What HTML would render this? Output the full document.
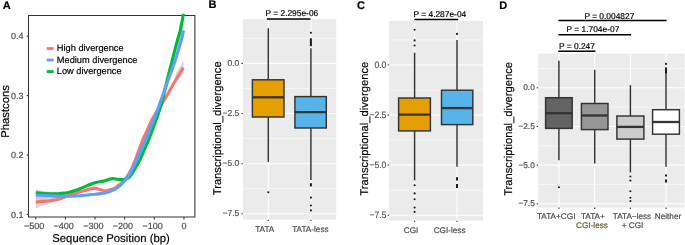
<!DOCTYPE html>
<html><head><meta charset="utf-8"><style>
html,body{margin:0;padding:0;background:#fff;width:685px;height:245px;overflow:hidden}
svg{display:block;will-change:transform}
text{font-family:"Liberation Sans", sans-serif;text-rendering:geometricPrecision}
</style></head><body>
<svg width="685" height="245" viewBox="0 0 685 245">
<rect x="0" y="0" width="685" height="245" fill="#fff"/>
<text x="2.7" y="8.6" font-size="11" fill="#000" text-anchor="start" font-weight="bold" stroke="#000" stroke-width="0.18" >A</text>
<path d="M35.8,197.2 C37.33,197.37 41.8,198.13 45,198.2 C48.2,198.27 51.5,198.07 55,197.6 C58.5,197.13 64.17,195.77 66,195.4 L66,198 C64.17,198.6 58.5,200.43 55,201.6 C51.5,202.77 48.2,203.9 45,205 C41.8,206.1 37.33,207.67 35.8,208.2 Z" fill="#999999" fill-opacity="0.38" stroke="none"/>
<path d="M35.8,189.6 C37.33,189.87 41.8,190.83 45,191.2 C48.2,191.57 51.5,191.77 55,191.8 C58.5,191.83 64.17,191.47 66,191.4 L66,198 C64.17,198 58.5,197.97 55,198 C51.5,198.03 48.2,198.1 45,198.2 C41.8,198.3 37.33,198.53 35.8,198.6 Z" fill="#999999" fill-opacity="0.38" stroke="none"/>
<path d="M175,75 C175.75,73.75 178.08,69.75 179.5,67.5 C180.92,65.25 182.83,62.5 183.5,61.5 L183.5,73.5 C182.92,74.17 181.25,75.92 180,77.5 C178.75,79.08 176.67,82.08 176,83 Z" fill="#999999" fill-opacity="0.4" stroke="none"/>
<path d="M177,42 C177.58,40.5 179.4,35.58 180.5,33 C181.6,30.42 183.08,27.58 183.6,26.5 L183.6,35.5 C183.17,36.42 181.93,38.75 181,41 C180.07,43.25 178.5,47.67 178,49 Z" fill="#999999" fill-opacity="0.4" stroke="none"/>
<path d="M178,36 C178.5,34.33 180.02,30.07 181,26 C181.98,21.93 183.42,14 183.9,11.6 L183.9,18.5 C183.58,20.75 182.82,28.25 182,32 C181.18,35.75 179.5,39.5 179,41 Z" fill="#999999" fill-opacity="0.4" stroke="none"/>
<path d="M28.5,15.5 H194.9 V216.9 H28.5 Z" fill="none" stroke="#333" stroke-width="1.05"/>
<path d="M35.8,202.3 C36.67,202.15 38.63,201.67 41,201.4 C43.37,201.13 47.17,201.02 50,200.7 C52.83,200.38 55.5,200.13 58,199.5 C60.5,198.87 62.67,197.75 65,196.9 C67.33,196.05 69.83,195.15 72,194.4 C74.17,193.65 75.83,193.05 78,192.4 C80.17,191.75 83,191.07 85,190.5 C87,189.93 88.33,189.35 90,189 C91.67,188.65 93.33,188.3 95,188.4 C96.67,188.5 98.33,189.18 100,189.6 C101.67,190.02 103.33,190.87 105,190.9 C106.67,190.93 108.33,190.28 110,189.8 C111.67,189.32 113.33,188.92 115,188 C116.67,187.08 118.33,185.7 120,184.3 C121.67,182.9 123.17,181.98 125,179.6 C126.83,177.22 129.3,173.27 131,170 C132.7,166.73 133.87,163.33 135.2,160 C136.53,156.67 137.75,153.33 139,150 C140.25,146.67 141.32,143.33 142.7,140 C144.08,136.67 145.78,133.33 147.3,130 C148.82,126.67 150.05,123.33 151.8,120 C153.55,116.67 155.73,113.33 157.8,110 C159.87,106.67 162.17,103.33 164.2,100 C166.23,96.67 168.08,93.33 170,90 C171.92,86.67 174.1,82.7 175.7,80 C177.3,77.3 178.33,75.87 179.6,73.8 C180.87,71.73 182.68,68.63 183.3,67.6" fill="none" stroke="#F8766D" stroke-width="3.1" stroke-linecap="butt" stroke-linejoin="round"/>
<path d="M35.8,192.6 C36.67,192.7 38.63,193.02 41,193.2 C43.37,193.38 47.17,193.62 50,193.7 C52.83,193.78 55.5,193.8 58,193.7 C60.5,193.6 63,193.38 65,193.1 C67,192.82 68.33,192.43 70,192 C71.67,191.57 73.33,191.05 75,190.5 C76.67,189.95 78.33,189.35 80,188.7 C81.67,188.05 83.33,187.3 85,186.6 C86.67,185.9 88.33,185.15 90,184.5 C91.67,183.85 93.33,183.17 95,182.7 C96.67,182.23 98.33,182.02 100,181.7 C101.67,181.38 103.33,181.23 105,180.8 C106.67,180.37 108.67,179.47 110,179.1 C111.33,178.73 111.83,178.58 113,178.6 C114.17,178.62 115.83,179.03 117,179.2 C118.17,179.37 119,179.53 120,179.6 C121,179.67 122,179.7 123,179.6 C124,179.5 124.92,179.43 126,179 C127.08,178.57 128.13,178.5 129.5,177 C130.87,175.5 132.48,172.83 134.2,170 C135.92,167.17 138.12,163.33 139.8,160 C141.48,156.67 142.83,153.33 144.3,150 C145.77,146.67 147.25,143.33 148.6,140 C149.95,136.67 151.15,133.33 152.4,130 C153.65,126.67 154.92,123.33 156.1,120 C157.28,116.67 158.43,113.33 159.5,110 C160.57,106.67 161.22,105 162.5,100 C163.78,95 165.57,86.67 167.2,80 C168.83,73.33 170.58,66.67 172.3,60 C174.02,53.33 176.23,44.67 177.5,40 C178.77,35.33 179.27,34.5 179.9,32 C180.53,29.5 180.7,28.02 181.3,25 C181.9,21.98 183.13,15.75 183.5,13.9" fill="none" stroke="#00BA38" stroke-width="3.1" stroke-linecap="butt" stroke-linejoin="round"/>
<path d="M35.8,195.2 C36.67,195.22 38.63,195.2 41,195.3 C43.37,195.4 47.17,195.65 50,195.8 C52.83,195.95 55.5,196.12 58,196.2 C60.5,196.28 62.67,196.3 65,196.3 C67.33,196.3 69.83,196.28 72,196.2 C74.17,196.12 75.83,195.95 78,195.8 C80.17,195.65 82.17,195.57 85,195.3 C87.83,195.03 91.67,194.57 95,194.2 C98.33,193.83 102.5,193.57 105,193.1 C107.5,192.63 108.33,192.05 110,191.4 C111.67,190.75 113.33,190.17 115,189.2 C116.67,188.23 118.5,186.88 120,185.6 C121.5,184.32 122.72,182.93 124,181.5 C125.28,180.07 126.38,178.92 127.7,177 C129.02,175.08 130.38,172.83 131.9,170 C133.42,167.17 135.28,163.33 136.8,160 C138.32,156.67 139.53,153.33 141,150 C142.47,146.67 144.17,143.33 145.6,140 C147.03,136.67 148.25,133.33 149.6,130 C150.95,126.67 152.38,123.33 153.7,120 C155.02,116.67 156.27,113.33 157.5,110 C158.73,106.67 159.32,105 161.1,100 C162.88,95 165.83,86.67 168.2,80 C170.57,73.33 173.12,66.67 175.3,60 C177.48,53.33 179.92,44.92 181.3,40 C182.68,35.08 183.22,32.08 183.6,30.5" fill="none" stroke="#619CFF" stroke-width="3.1" stroke-linecap="butt" stroke-linejoin="round"/>
<line x1="26.7" y1="214.4" x2="28.5" y2="214.4" stroke="#333" stroke-width="1.1" />
<text x="23.6" y="217.6" font-size="9" fill="#4D4D4D" text-anchor="end" font-weight="normal" stroke="#4D4D4D" stroke-width="0.18" >0.1</text>
<line x1="26.7" y1="155" x2="28.5" y2="155" stroke="#333" stroke-width="1.1" />
<text x="23.6" y="158.2" font-size="9" fill="#4D4D4D" text-anchor="end" font-weight="normal" stroke="#4D4D4D" stroke-width="0.18" >0.2</text>
<line x1="26.7" y1="95.6" x2="28.5" y2="95.6" stroke="#333" stroke-width="1.1" />
<text x="23.6" y="98.8" font-size="9" fill="#4D4D4D" text-anchor="end" font-weight="normal" stroke="#4D4D4D" stroke-width="0.18" >0.3</text>
<line x1="26.7" y1="36.2" x2="28.5" y2="36.2" stroke="#333" stroke-width="1.1" />
<text x="23.6" y="39.4" font-size="9" fill="#4D4D4D" text-anchor="end" font-weight="normal" stroke="#4D4D4D" stroke-width="0.18" >0.4</text>
<line x1="35.75" y1="217" x2="35.75" y2="219.4" stroke="#333" stroke-width="1.05" />
<text x="34.05" y="228.9" font-size="9" fill="#4D4D4D" text-anchor="middle" font-weight="normal" stroke="#4D4D4D" stroke-width="0.18" >−500</text>
<line x1="65.39" y1="217" x2="65.39" y2="219.4" stroke="#333" stroke-width="1.05" />
<text x="63.69" y="228.9" font-size="9" fill="#4D4D4D" text-anchor="middle" font-weight="normal" stroke="#4D4D4D" stroke-width="0.18" >−400</text>
<line x1="95.02" y1="217" x2="95.02" y2="219.4" stroke="#333" stroke-width="1.05" />
<text x="93.32" y="228.9" font-size="9" fill="#4D4D4D" text-anchor="middle" font-weight="normal" stroke="#4D4D4D" stroke-width="0.18" >−300</text>
<line x1="124.66" y1="217" x2="124.66" y2="219.4" stroke="#333" stroke-width="1.05" />
<text x="122.96" y="228.9" font-size="9" fill="#4D4D4D" text-anchor="middle" font-weight="normal" stroke="#4D4D4D" stroke-width="0.18" >−200</text>
<line x1="154.29" y1="217" x2="154.29" y2="219.4" stroke="#333" stroke-width="1.05" />
<text x="152.59" y="228.9" font-size="9" fill="#4D4D4D" text-anchor="middle" font-weight="normal" stroke="#4D4D4D" stroke-width="0.18" >−100</text>
<line x1="183.93" y1="217" x2="183.93" y2="219.4" stroke="#333" stroke-width="1.05" />
<text x="183.93" y="228.9" font-size="9" fill="#4D4D4D" text-anchor="middle" font-weight="normal" stroke="#4D4D4D" stroke-width="0.18" >0</text>
<text x="111" y="242" font-size="11.3" fill="#000" text-anchor="middle" font-weight="normal" stroke="#000" stroke-width="0.18" >Sequence Position (bp)</text>
<text x="9.1" y="111.4" font-size="11.3" fill="#000" text-anchor="middle" font-weight="normal" stroke="#000" stroke-width="0.18" transform="rotate(-90 9.1 111.4)">Phastcons</text>
<line x1="46.7" y1="48.5" x2="53.7" y2="48.5" stroke="#F8766D" stroke-width="2.8" />
<text x="56.8" y="51.2" font-size="9.25" fill="#000" text-anchor="start" font-weight="normal" stroke="#000" stroke-width="0.18" >High divergence</text>
<line x1="46.7" y1="60.05" x2="53.7" y2="60.05" stroke="#619CFF" stroke-width="2.8" />
<text x="56.8" y="62.75" font-size="9.25" fill="#000" text-anchor="start" font-weight="normal" stroke="#000" stroke-width="0.18" >Medium divergence</text>
<line x1="46.7" y1="71.6" x2="53.7" y2="71.6" stroke="#00BA38" stroke-width="2.8" />
<text x="56.8" y="74.3" font-size="9.25" fill="#000" text-anchor="start" font-weight="normal" stroke="#000" stroke-width="0.18" >Low divergence</text>
<text x="208.5" y="7.9" font-size="11" fill="#000" text-anchor="start" font-weight="bold" stroke="#000" stroke-width="0.18" >B</text>
<rect x="242.9" y="19.1" width="93.3" height="200.6" fill="#EBEBEB" stroke="none" stroke-width="0" />
<line x1="242.9" y1="38.33" x2="336.2" y2="38.33" stroke="#FFFFFF" stroke-width="0.53" />
<line x1="242.9" y1="88.47" x2="336.2" y2="88.47" stroke="#FFFFFF" stroke-width="0.53" />
<line x1="242.9" y1="138.59" x2="336.2" y2="138.59" stroke="#FFFFFF" stroke-width="0.53" />
<line x1="242.9" y1="188.72" x2="336.2" y2="188.72" stroke="#FFFFFF" stroke-width="0.53" />
<line x1="242.9" y1="63.4" x2="336.2" y2="63.4" stroke="#FFFFFF" stroke-width="1.07" />
<line x1="242.9" y1="113.53" x2="336.2" y2="113.53" stroke="#FFFFFF" stroke-width="1.07" />
<line x1="242.9" y1="163.66" x2="336.2" y2="163.66" stroke="#FFFFFF" stroke-width="1.07" />
<line x1="242.9" y1="213.79" x2="336.2" y2="213.79" stroke="#FFFFFF" stroke-width="1.07" />
<line x1="268.3" y1="19.1" x2="268.3" y2="219.7" stroke="#FFFFFF" stroke-width="1.07" />
<line x1="310.9" y1="19.1" x2="310.9" y2="219.7" stroke="#FFFFFF" stroke-width="1.07" />
<line x1="241.5" y1="63.4" x2="242.9" y2="63.4" stroke="#333" stroke-width="1.07" />
<text x="239.3" y="66" font-size="8.5" fill="#4D4D4D" text-anchor="end" font-weight="normal" stroke="#4D4D4D" stroke-width="0.18" >0.0</text>
<line x1="241.5" y1="113.53" x2="242.9" y2="113.53" stroke="#333" stroke-width="1.07" />
<text x="239.3" y="116" font-size="8.5" fill="#4D4D4D" text-anchor="end" font-weight="normal" stroke="#4D4D4D" stroke-width="0.18" >−2.5</text>
<line x1="241.5" y1="163.66" x2="242.9" y2="163.66" stroke="#333" stroke-width="1.07" />
<text x="239.3" y="166" font-size="8.5" fill="#4D4D4D" text-anchor="end" font-weight="normal" stroke="#4D4D4D" stroke-width="0.18" >−5.0</text>
<line x1="241.5" y1="213.79" x2="242.9" y2="213.79" stroke="#333" stroke-width="1.07" />
<text x="239.3" y="216" font-size="8.5" fill="#4D4D4D" text-anchor="end" font-weight="normal" stroke="#4D4D4D" stroke-width="0.18" >−7.5</text>
<line x1="268.3" y1="219.7" x2="268.3" y2="221.1" stroke="#333" stroke-width="1.07" />
<line x1="310.9" y1="219.7" x2="310.9" y2="221.1" stroke="#333" stroke-width="1.07" />
<line x1="268.3" y1="28.2" x2="268.3" y2="79.8" stroke="#333" stroke-width="1.45" />
<line x1="268.3" y1="117" x2="268.3" y2="161.9" stroke="#333" stroke-width="1.45" />
<rect x="252.4" y="79.8" width="31.6" height="37.2" fill="#E69F00" stroke="#333" stroke-width="1.45" />
<line x1="252.4" y1="97.3" x2="284" y2="97.3" stroke="#333" stroke-width="2.3" />
<circle cx="268.3" cy="192.2" r="1.05" fill="#1a1a1a"/>
<line x1="310.9" y1="48.2" x2="310.9" y2="96.6" stroke="#333" stroke-width="1.45" />
<line x1="310.9" y1="128" x2="310.9" y2="180" stroke="#333" stroke-width="1.45" />
<rect x="294.9" y="96.6" width="31.4" height="31.4" fill="#56B4E9" stroke="#333" stroke-width="1.45" />
<line x1="294.9" y1="112.1" x2="326.3" y2="112.1" stroke="#333" stroke-width="2.3" />
<circle cx="310.9" cy="32.7" r="1.05" fill="#1a1a1a"/>
<line x1="310.9" y1="38.3" x2="310.9" y2="46.2" stroke="#1a1a1a" stroke-width="2" />
<line x1="310.9" y1="183.2" x2="310.9" y2="186.4" stroke="#1a1a1a" stroke-width="2" />
<circle cx="310.9" cy="197.6" r="1.05" fill="#1a1a1a"/>
<circle cx="310.9" cy="205.5" r="1.05" fill="#1a1a1a"/>
<circle cx="310.9" cy="210.4" r="1.05" fill="#1a1a1a"/>
<text x="220.6" y="128.3" font-size="11.2" fill="#000" text-anchor="middle" font-weight="normal" stroke="#000" stroke-width="0.18" transform="rotate(-90 220.6 128.3)">Transcriptional_divergence</text>
<line x1="266.9" y1="18.9" x2="310.5" y2="18.9" stroke="#000" stroke-width="1.5" />
<text x="265.5" y="16" font-size="8.4" fill="#000" text-anchor="start" font-weight="normal" stroke="#000" stroke-width="0.18" >P = 2.295e-06</text>
<text x="264.7" y="231.9" font-size="8.2" fill="#4D4D4D" text-anchor="middle" font-weight="normal" stroke="#4D4D4D" stroke-width="0.18" >TATA</text>
<text x="310.4" y="231.9" font-size="8.2" fill="#4D4D4D" text-anchor="middle" font-weight="normal" stroke="#4D4D4D" stroke-width="0.18" >TATA-less</text>
<text x="357.1" y="8.9" font-size="11" fill="#000" text-anchor="start" font-weight="bold" stroke="#000" stroke-width="0.18" >C</text>
<rect x="389.1" y="20.9" width="93.9" height="199.8" fill="#EBEBEB" stroke="none" stroke-width="0" />
<line x1="389.1" y1="39.92" x2="483" y2="39.92" stroke="#FFFFFF" stroke-width="0.53" />
<line x1="389.1" y1="90" x2="483" y2="90" stroke="#FFFFFF" stroke-width="0.53" />
<line x1="389.1" y1="140.08" x2="483" y2="140.08" stroke="#FFFFFF" stroke-width="0.53" />
<line x1="389.1" y1="190.16" x2="483" y2="190.16" stroke="#FFFFFF" stroke-width="0.53" />
<line x1="389.1" y1="64.96" x2="483" y2="64.96" stroke="#FFFFFF" stroke-width="1.07" />
<line x1="389.1" y1="115.04" x2="483" y2="115.04" stroke="#FFFFFF" stroke-width="1.07" />
<line x1="389.1" y1="165.12" x2="483" y2="165.12" stroke="#FFFFFF" stroke-width="1.07" />
<line x1="389.1" y1="215.2" x2="483" y2="215.2" stroke="#FFFFFF" stroke-width="1.07" />
<line x1="414.6" y1="20.9" x2="414.6" y2="220.7" stroke="#FFFFFF" stroke-width="1.07" />
<line x1="457" y1="20.9" x2="457" y2="220.7" stroke="#FFFFFF" stroke-width="1.07" />
<line x1="387.7" y1="64.96" x2="389.1" y2="64.96" stroke="#333" stroke-width="1.07" />
<text x="0" y="0" font-size="8.6" fill="#4D4D4D" text-anchor="end" font-weight="normal" stroke="#4D4D4D" stroke-width="0.12" transform="translate(386.4 67.86) scale(1 1.07)">0.0</text>
<line x1="387.7" y1="115.04" x2="389.1" y2="115.04" stroke="#333" stroke-width="1.07" />
<text x="0" y="0" font-size="8.6" fill="#4D4D4D" text-anchor="end" font-weight="normal" stroke="#4D4D4D" stroke-width="0.12" transform="translate(386.4 117.94) scale(1 1.07)">−2.5</text>
<line x1="387.7" y1="165.12" x2="389.1" y2="165.12" stroke="#333" stroke-width="1.07" />
<text x="0" y="0" font-size="8.6" fill="#4D4D4D" text-anchor="end" font-weight="normal" stroke="#4D4D4D" stroke-width="0.12" transform="translate(386.4 168.02) scale(1 1.07)">−5.0</text>
<line x1="387.7" y1="215.2" x2="389.1" y2="215.2" stroke="#333" stroke-width="1.07" />
<text x="0" y="0" font-size="8.6" fill="#4D4D4D" text-anchor="end" font-weight="normal" stroke="#4D4D4D" stroke-width="0.12" transform="translate(386.4 218.1) scale(1 1.07)">−7.5</text>
<line x1="414.6" y1="220.7" x2="414.6" y2="222.1" stroke="#333" stroke-width="1.07" />
<line x1="457" y1="220.7" x2="457" y2="222.1" stroke="#333" stroke-width="1.07" />
<line x1="414.6" y1="52.7" x2="414.6" y2="98" stroke="#333" stroke-width="1.45" />
<line x1="414.6" y1="130.9" x2="414.6" y2="180.3" stroke="#333" stroke-width="1.45" />
<rect x="398.6" y="98" width="31.8" height="32.9" fill="#E69F00" stroke="#333" stroke-width="1.45" />
<line x1="398.6" y1="114.6" x2="430.4" y2="114.6" stroke="#333" stroke-width="2.3" />
<circle cx="414.6" cy="29.8" r="1.05" fill="#1a1a1a"/>
<circle cx="414.6" cy="40.4" r="1.05" fill="#1a1a1a"/>
<circle cx="414.6" cy="45.5" r="1.05" fill="#1a1a1a"/>
<circle cx="414.6" cy="185.3" r="1.05" fill="#1a1a1a"/>
<circle cx="414.6" cy="193.4" r="1.05" fill="#1a1a1a"/>
<circle cx="414.6" cy="199.2" r="1.05" fill="#1a1a1a"/>
<circle cx="414.6" cy="207.6" r="1.05" fill="#1a1a1a"/>
<circle cx="414.6" cy="211.9" r="1.05" fill="#1a1a1a"/>
<line x1="457" y1="40" x2="457" y2="90.2" stroke="#333" stroke-width="1.45" />
<line x1="457" y1="124.6" x2="457" y2="166.8" stroke="#333" stroke-width="1.45" />
<rect x="441.5" y="90.2" width="31.3" height="34.4" fill="#56B4E9" stroke="#333" stroke-width="1.45" />
<line x1="441.5" y1="108.1" x2="472.8" y2="108.1" stroke="#333" stroke-width="2.3" />
<circle cx="457" cy="33.9" r="1.05" fill="#1a1a1a"/>
<line x1="457" y1="177.3" x2="457" y2="180.6" stroke="#1a1a1a" stroke-width="2" />
<line x1="457" y1="183.9" x2="457" y2="188" stroke="#1a1a1a" stroke-width="2" />
<text x="367.7" y="128.7" font-size="11.2" fill="#000" text-anchor="middle" font-weight="normal" stroke="#000" stroke-width="0.18" transform="rotate(-90 367.7 128.7)">Transcriptional_divergence</text>
<line x1="414.4" y1="19.4" x2="458.2" y2="19.4" stroke="#000" stroke-width="1.5" />
<text x="413.5" y="16.5" font-size="8.4" fill="#000" text-anchor="start" font-weight="normal" stroke="#000" stroke-width="0.18" >P = 4.287e-04</text>
<text x="411" y="233" font-size="8.2" fill="#4D4D4D" text-anchor="middle" font-weight="normal" stroke="#4D4D4D" stroke-width="0.18" >CGI</text>
<text x="449.6" y="233" font-size="8.2" fill="#4D4D4D" text-anchor="middle" font-weight="normal" stroke="#4D4D4D" stroke-width="0.18" >CGI-less</text>
<text x="499.3" y="8.6" font-size="11" fill="#000" text-anchor="start" font-weight="bold" stroke="#000" stroke-width="0.18" >D</text>
<rect x="538.1" y="53.6" width="146.4" height="154" fill="#EBEBEB" stroke="none" stroke-width="0" />
<line x1="538.1" y1="68.47" x2="684.5" y2="68.47" stroke="#FFFFFF" stroke-width="0.53" />
<line x1="538.1" y1="107.13" x2="684.5" y2="107.13" stroke="#FFFFFF" stroke-width="0.53" />
<line x1="538.1" y1="145.81" x2="684.5" y2="145.81" stroke="#FFFFFF" stroke-width="0.53" />
<line x1="538.1" y1="184.47" x2="684.5" y2="184.47" stroke="#FFFFFF" stroke-width="0.53" />
<line x1="538.1" y1="87.8" x2="684.5" y2="87.8" stroke="#FFFFFF" stroke-width="1.07" />
<line x1="538.1" y1="126.47" x2="684.5" y2="126.47" stroke="#FFFFFF" stroke-width="1.07" />
<line x1="538.1" y1="165.14" x2="684.5" y2="165.14" stroke="#FFFFFF" stroke-width="1.07" />
<line x1="538.1" y1="203.81" x2="684.5" y2="203.81" stroke="#FFFFFF" stroke-width="1.07" />
<line x1="558.9" y1="53.6" x2="558.9" y2="207.6" stroke="#FFFFFF" stroke-width="1.07" />
<line x1="594.7" y1="53.6" x2="594.7" y2="207.6" stroke="#FFFFFF" stroke-width="1.07" />
<line x1="630.4" y1="53.6" x2="630.4" y2="207.6" stroke="#FFFFFF" stroke-width="1.07" />
<line x1="666" y1="53.6" x2="666" y2="207.6" stroke="#FFFFFF" stroke-width="1.07" />
<line x1="536.7" y1="87.8" x2="538.1" y2="87.8" stroke="#333" stroke-width="1.07" />
<text x="534.8" y="90" font-size="8.3" fill="#4D4D4D" text-anchor="end" font-weight="normal" stroke="#4D4D4D" stroke-width="0.18" >0.0</text>
<line x1="536.7" y1="126.47" x2="538.1" y2="126.47" stroke="#333" stroke-width="1.07" />
<text x="534.8" y="129" font-size="8.3" fill="#4D4D4D" text-anchor="end" font-weight="normal" stroke="#4D4D4D" stroke-width="0.18" >−2.5</text>
<line x1="536.7" y1="165.14" x2="538.1" y2="165.14" stroke="#333" stroke-width="1.07" />
<text x="534.8" y="168" font-size="8.3" fill="#4D4D4D" text-anchor="end" font-weight="normal" stroke="#4D4D4D" stroke-width="0.18" >−5.0</text>
<line x1="536.7" y1="203.81" x2="538.1" y2="203.81" stroke="#333" stroke-width="1.07" />
<text x="534.8" y="206" font-size="8.3" fill="#4D4D4D" text-anchor="end" font-weight="normal" stroke="#4D4D4D" stroke-width="0.18" >−7.5</text>
<line x1="558.9" y1="207.6" x2="558.9" y2="209" stroke="#333" stroke-width="1.07" />
<line x1="594.7" y1="207.6" x2="594.7" y2="209" stroke="#333" stroke-width="1.07" />
<line x1="630.4" y1="207.6" x2="630.4" y2="209" stroke="#333" stroke-width="1.07" />
<line x1="666" y1="207.6" x2="666" y2="209" stroke="#333" stroke-width="1.07" />
<line x1="558.9" y1="60.7" x2="558.9" y2="97.7" stroke="#333" stroke-width="1.45" />
<line x1="558.9" y1="128.4" x2="558.9" y2="160.3" stroke="#333" stroke-width="1.45" />
<rect x="545.6" y="97.7" width="26.6" height="30.7" fill="#636363" stroke="#333" stroke-width="1.45" />
<line x1="545.6" y1="113.2" x2="572.2" y2="113.2" stroke="#333" stroke-width="2.3" />
<circle cx="558.9" cy="187.3" r="1.05" fill="#1a1a1a"/>
<line x1="594.7" y1="69.8" x2="594.7" y2="103.5" stroke="#333" stroke-width="1.45" />
<line x1="594.7" y1="129.6" x2="594.7" y2="163.5" stroke="#333" stroke-width="1.45" />
<rect x="581.4" y="103.5" width="26.6" height="26.1" fill="#969696" stroke="#333" stroke-width="1.45" />
<line x1="581.4" y1="115.5" x2="608" y2="115.5" stroke="#333" stroke-width="2.3" />
<line x1="630.4" y1="85.1" x2="630.4" y2="116" stroke="#333" stroke-width="1.45" />
<line x1="630.4" y1="139.1" x2="630.4" y2="172.5" stroke="#333" stroke-width="1.45" />
<rect x="616.9" y="116" width="27" height="23.1" fill="#CCCCCC" stroke="#333" stroke-width="1.45" />
<line x1="616.9" y1="126.9" x2="643.9" y2="126.9" stroke="#333" stroke-width="2.3" />
<circle cx="630.4" cy="176.5" r="1.05" fill="#1a1a1a"/>
<circle cx="630.4" cy="180.6" r="1.05" fill="#1a1a1a"/>
<circle cx="630.4" cy="191.2" r="1.05" fill="#1a1a1a"/>
<circle cx="630.4" cy="197.8" r="1.05" fill="#1a1a1a"/>
<circle cx="630.4" cy="201" r="1.05" fill="#1a1a1a"/>
<line x1="666" y1="73" x2="666" y2="109.7" stroke="#333" stroke-width="1.45" />
<line x1="666" y1="134.2" x2="666" y2="166.7" stroke="#333" stroke-width="1.45" />
<rect x="652.6" y="109.7" width="26.8" height="24.5" fill="#FFFFFF" stroke="#333" stroke-width="1.45" />
<line x1="652.6" y1="122" x2="679.4" y2="122" stroke="#333" stroke-width="2.3" />
<circle cx="666" cy="63.9" r="1.05" fill="#1a1a1a"/>
<line x1="666" y1="67.6" x2="666" y2="73.3" stroke="#1a1a1a" stroke-width="2" />
<line x1="666" y1="174.5" x2="666" y2="176.5" stroke="#1a1a1a" stroke-width="2" />
<line x1="666" y1="179.4" x2="666" y2="182.4" stroke="#1a1a1a" stroke-width="2" />
<text x="512" y="128.9" font-size="11.2" fill="#000" text-anchor="middle" font-weight="normal" stroke="#000" stroke-width="0.18" transform="rotate(-90 512 128.9)">Transcriptional_divergence</text>
<line x1="558.3" y1="20.4" x2="666.6" y2="20.4" stroke="#000" stroke-width="1.5" />
<line x1="558.3" y1="34.8" x2="631.1" y2="34.8" stroke="#000" stroke-width="1.5" />
<line x1="558.3" y1="51.2" x2="595.4" y2="51.2" stroke="#000" stroke-width="1.5" />
<text x="584.4" y="18.8" font-size="8.4" fill="#000" text-anchor="start" font-weight="normal" stroke="#000" stroke-width="0.18" >P = 0.004827</text>
<text x="566.6" y="32.4" font-size="8.4" fill="#000" text-anchor="start" font-weight="normal" stroke="#000" stroke-width="0.18" >P = 1.704e-07</text>
<text x="559" y="49.3" font-size="8.4" fill="#000" text-anchor="start" font-weight="normal" stroke="#000" stroke-width="0.18" >P = 0.247</text>
<text x="556.2" y="218.6" font-size="8.2" fill="#4D4D4D" text-anchor="middle" font-weight="normal" stroke="#4D4D4D" stroke-width="0.18" >TATA+CGI</text>
<text x="592.9" y="218.6" font-size="8.2" fill="#4D4D4D" text-anchor="middle" font-weight="normal" stroke="#4D4D4D" stroke-width="0.18" >TATA+</text>
<text x="592" y="227.8" font-size="8.2" fill="#5E5E26" text-anchor="middle" font-weight="normal" stroke="#5E5E26" stroke-width="0.18" >CGI-less</text>
<text x="632" y="218.6" font-size="8.2" fill="#4D4D4D" text-anchor="middle" font-weight="normal" stroke="#4D4D4D" stroke-width="0.18" >TATA−less</text>
<text x="632.6" y="227.8" font-size="8.2" fill="#4D4D4D" text-anchor="middle" font-weight="normal" stroke="#4D4D4D" stroke-width="0.18" >+ CGI</text>
<text x="668" y="218.6" font-size="8.2" fill="#4D4D4D" text-anchor="middle" font-weight="normal" stroke="#4D4D4D" stroke-width="0.18" >Neither</text>
</svg>
</body></html>
